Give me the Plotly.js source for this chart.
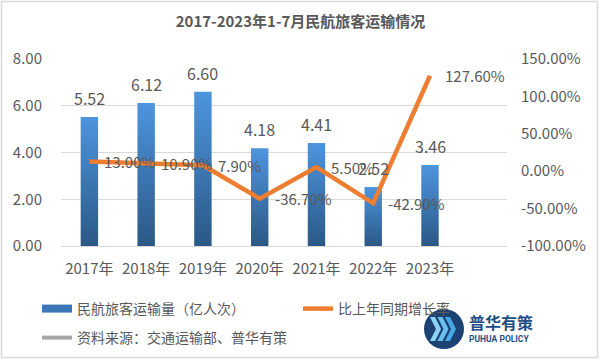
<!DOCTYPE html>
<html><head><meta charset="utf-8">
<script src="https://cdn.plot.ly/plotly-3.0.1.min.js"></script>
<style>body{margin:0;background:#fff}#c{width:601px;height:361px}</style>
</head><body><div id="c"></div>
<script>
const years = ['2017年','2018年','2019年','2020年','2021年','2022年','2023年'];
const passengers = [5.52, 6.12, 6.60, 4.18, 4.41, 2.52, 3.46];
const growth = [13.00, 10.90, 7.90, -36.70, 5.50, -42.90, 127.60];
const y2Ticks = [-100, -50, 0, 50, 100, 150];
const y2TickText = ['-100.00%','-50.00%','0.00%','50.00%','100.00%','150.00%'];

const font = '"Noto Sans CJK SC", "Microsoft YaHei", sans-serif';
const gray = '#595959';
const W = 601, H = 361, L = 61, R = 94, T = 59, B = 115;
const pw = W - L - R, ph = H - T - B;
const px = x => (x - L) / pw;           // pixel -> paper (decoration only)
const py = y => (H - B - y) / ph;

const traces = [
  {type:'bar', x:years, y:passengers, name:'民航旅客运输量（亿人次）', showlegend:false,
   marker:{color:'#3f7fc0'}, hoverinfo:'none'},
  {type:'scatter', mode:'lines', x:years, y:growth, yaxis:'y2', name:'比上年同期增长率',
   line:{color:'#ed7d31', width:4.5}, legend:'legend2', hoverinfo:'none'},
  {type:'scatter', mode:'lines', x:[null], y:[null], name:'民航旅客运输量（亿人次）',
   line:{color:'#3b77b6', width:8}, legend:'legend', hoverinfo:'none'},
  {type:'scatter', mode:'lines', x:[null], y:[null], name:'资料来源：交通运输部、普华有策',
   line:{color:'#a6a6a6', width:4}, legend:'legend3', hoverinfo:'none'}
];

const annotations = [];
years.forEach((yr, i) => {
  annotations.push({x:yr, y:passengers[i], xref:'x', yref:'y', text:passengers[i].toFixed(2),
    showarrow:false, yanchor:'middle', yshift:19, font:{size:16, color:gray}});
  annotations.push({x:yr, y:growth[i], xref:'x', yref:'y2', text:growth[i].toFixed(2)+'%',
    showarrow:false, xanchor:'left', yanchor:'middle', xshift:13, font:{size:15, color:gray}});
});
annotations.push(
  {xref:'paper', yref:'paper', x:px(467), y:py(322), xanchor:'left', yanchor:'middle', text:'<b>普华有策</b>', showarrow:false, font:{size:16, color:'#1f4e86'}},
  {xref:'paper', yref:'paper', x:px(467), y:py(339), xanchor:'left', yanchor:'middle', text:'<b>PUHUA POLICY</b>', showarrow:false, font:{size:8.5, color:'#1f4e86', family:'Roboto, sans-serif'}}
);

function chevron(x0, y0, col){
  const pts = [[x0, y0-12],[x0+5, y0-12],[x0+11, y0],[x0+5, y0+12],[x0, y0+12],[x0+6, y0]];
  return {type:'path', xref:'paper', yref:'paper', fillcolor:col, line:{width:0},
    path:'M' + pts.map(p => px(p[0]).toFixed(5)+','+py(p[1]).toFixed(5)).join(' L') + ' Z'};
}

const shapes = [
  {type:'rect', xref:'paper', yref:'paper', x0:px(1.5), x1:px(597.5), y0:py(357.5), y1:py(1.5), line:{color:'#d9d9d9', width:1.5}, layer:'below'},
  {type:'circle', xref:'paper', yref:'paper', x0:px(424), x1:px(464), y0:py(349), y1:py(309), fillcolor:'#1b4273', line:{width:0}},
  chevron(430, 329, '#8ed2f5'), chevron(437.5, 329, '#6cc0ef'), chevron(445, 329, '#4aa8e6')
];

const legendBase = {orientation:'h', xref:'container', yref:'container', xanchor:'left', yanchor:'middle',
  font:{size:14, color:gray}, bgcolor:'rgba(0,0,0,0)', borderwidth:0, itemwidth:30};

const layout = {
  width:W, height:H, paper_bgcolor:'#fff', plot_bgcolor:'#fff',
  margin:{l:L, r:R, t:T, b:B},
  font:{family:font, color:gray, size:15},
  title:{text:'<b>2017-2023年1-7月民航旅客运输情况</b>', x:0.5, xanchor:'center', xref:'container',
    y:1-22/H, yanchor:'middle', yref:'container', font:{size:15, color:gray}},
  bargap:0.693, showlegend:true,
  xaxis:{tickfont:{size:15, color:gray}, showline:true, linecolor:'#d9d9d9', ticks:'', ticklabelstandoff:9, fixedrange:true},
  yaxis:{range:[0,8], dtick:2, tickformat:'.2f', gridcolor:'#d9d9d9', zeroline:false,
    tickfont:{size:15, color:gray}, ticks:'', ticklabelstandoff:18},
  yaxis2:{range:[-100,150], overlaying:'y', side:'right', showgrid:false, zeroline:false,
    tickvals:y2Ticks, ticktext:y2TickText, tickfont:{size:15, color:gray}, ticks:'', ticklabelstandoff:13},
  legend:Object.assign({}, legendBase, {x:37/W, y:1-309/H}),
  legend2:Object.assign({}, legendBase, {x:298/W, y:1-309/H}),
  legend3:Object.assign({}, legendBase, {x:37/W, y:1-338/H}),
  shapes:shapes,
  annotations:annotations
};

function applyGrad(){
  const svg = document.querySelector('#c .main-svg');
  if(!svg) return;
  const defs = svg.querySelector('defs');
  if(!document.getElementById('barGrad')){
    const ns = 'http://www.w3.org/2000/svg';
    const g = document.createElementNS(ns, 'linearGradient');
    g.setAttribute('id','barGrad'); g.setAttribute('x1','0'); g.setAttribute('y1','0'); g.setAttribute('x2','0'); g.setAttribute('y2','1');
    [['0','#4d95de'],['1','#2b5886']].forEach(([o,c]) => {
      const s = document.createElementNS(ns,'stop'); s.setAttribute('offset',o); s.setAttribute('stop-color',c); g.appendChild(s);
    });
    defs.appendChild(g);
  }
  document.querySelectorAll('#c .bars .point path').forEach(p => { p.style.fill = 'url(#barGrad)'; });
}
Plotly.newPlot('c', traces, layout, {staticPlot:true, displayModeBar:false}).then(applyGrad);
</script></body></html>
